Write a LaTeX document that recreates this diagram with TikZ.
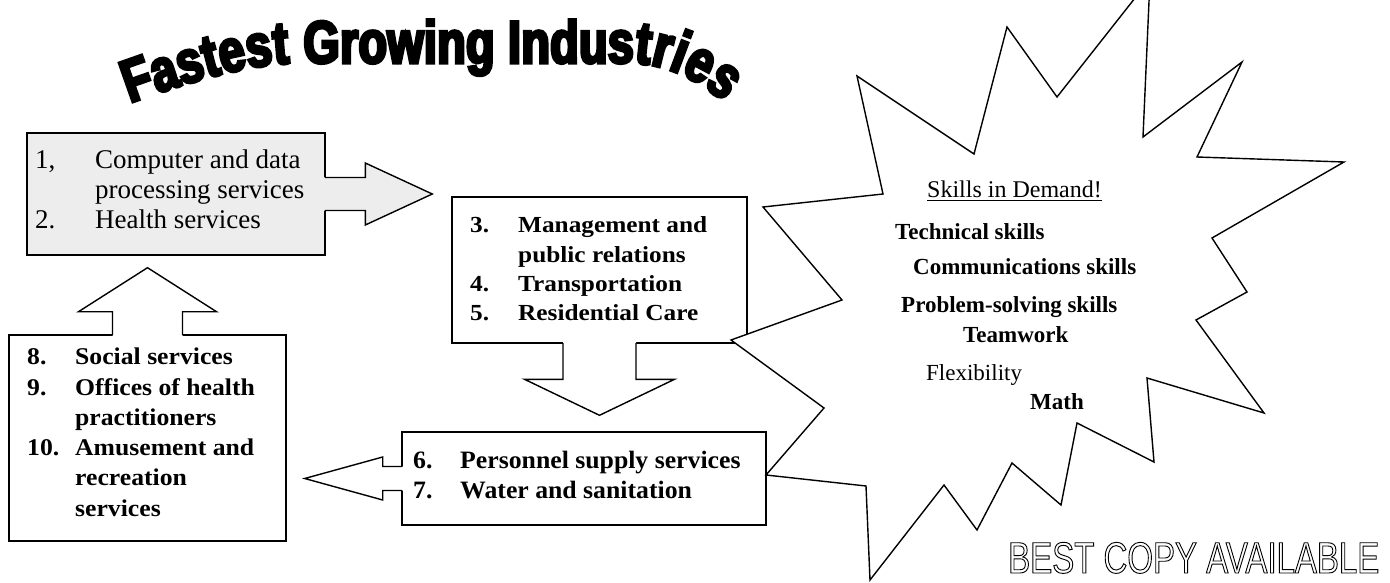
\documentclass[tikz,border=0pt]{standalone}
\usepackage{fontspec}
\setmainfont{Liberation Serif}
\newfontfamily\serifwideA{Liberation Serif}[FakeStretch=1.10]
\newfontfamily\serifwideB{Liberation Serif}[FakeStretch=1.07]
\newfontfamily\serifwideC{Liberation Serif}[FakeStretch=1.03]
\newfontfamily\titlefont{Liberation Sans Bold}[FakeStretch=0.78,FakeBold=5]
\newfontfamily\stampfont{Liberation Sans}[FakeStretch=0.75]
\usetikzlibrary{calc,decorations.text}

\definecolor{boxgray}{gray}{0.93}

% fixed-width column for list numbers
\newcommand\numcol[2]{\makebox[#1][l]{#2}}
% heading with a heavy underline
\newcommand\uline[1]{\vtop{\hbox{#1}\kern2.6pt\hrule height 1.3pt}}
% hollow (stroked) letters
\newcommand\outlined[1]{\special{pdf:literal direct 1 Tr 0.9 w}#1\special{pdf:literal direct 0 Tr}}

\begin{document}
\begin{tikzpicture}[x=1pt,y=-1pt,
  outline/.style={line width=1.4pt, line join=miter},
  box/.style={outline, draw=black, rectangle, inner sep=0pt},
  txt/.style={inner sep=0pt, anchor=base west},
  ]
\useasboundingbox (0,0) rectangle (1390,583);
\clip (0,0) rectangle (1390,583);

% arched title
\path[decorate, decoration={text along path, text align=fit to path,
   text={|\titlefont\fontsize{60}{60}\selectfont|Fastest Growing Industries}}]
  (130,103) .. controls (188,82) and (250,63) .. (300,63) -- (628,63)
  .. controls (664,63) and (696,78) .. (724,102);

% industry boxes
\node[box, fill=boxgray, minimum width=298pt, minimum height=122pt] (b1) at (176,194) {};
\node[box, fill=white, minimum width=295pt, minimum height=146pt] (b3) at (599.5,270) {};
\node[box, fill=white, minimum width=364pt, minimum height=93pt] (b6) at (584,478.5) {};
\node[box, fill=white, minimum width=277pt, minimum height=206pt] (b8) at (147.5,438) {};

% block arrow: b1 -> b3
\coordinate (tA) at ($(b3.west |- b1.east)+(-19,0)$);
\fill[boxgray] ($(b1.east)+(-1.5,-16.5)$) -- ($(tA)+(-67,-16.5)$) -- ($(tA)+(-67,-31)$) -- (tA)
  -- ($(tA)+(-67,31)$) -- ($(tA)+(-67,16.5)$) -- ($(b1.east)+(-1.5,16.5)$) -- cycle;
\draw[outline] ($(b1.east)+(-0.7,-16.5)$) -- ($(tA)+(-67,-16.5)$) -- ($(tA)+(-67,-31)$) -- (tA)
  -- ($(tA)+(-67,31)$) -- ($(tA)+(-67,16.5)$) -- ($(b1.east)+(-0.7,16.5)$);

% block arrow: b3 -> b6
\coordinate (tB) at ($(b6.north -| b3.south)+(0,-16)$);
\fill[white] ($(b3.south)+(-36.5,-1.5)$) -- ($(tB)+(-36.5,-36)$) -- ($(tB)+(-75,-36)$) -- (tB)
  -- ($(tB)+(75,-36)$) -- ($(tB)+(36.5,-36)$) -- ($(b3.south)+(36.5,-1.5)$) -- cycle;
\draw[outline] ($(b3.south)+(-36.5,-0.7)$) -- ($(tB)+(-36.5,-36)$) -- ($(tB)+(-75,-36)$) -- (tB)
  -- ($(tB)+(75,-36)$) -- ($(tB)+(36.5,-36)$) -- ($(b3.south)+(36.5,-0.7)$);

% block arrow: b6 -> b8
\coordinate (tC) at ($(b8.east |- b6.west)+(18,0)$);
\fill[white] ($(b6.west)+(1.5,-12)$) -- ($(tC)+(78,-12)$) -- ($(tC)+(78,-21.5)$) -- (tC)
  -- ($(tC)+(78,21.5)$) -- ($(tC)+(78,12)$) -- ($(b6.west)+(1.5,12)$) -- cycle;
\draw[outline] ($(b6.west)+(0.7,-12)$) -- ($(tC)+(78,-12)$) -- ($(tC)+(78,-21.5)$) -- (tC)
  -- ($(tC)+(78,21.5)$) -- ($(tC)+(78,12)$) -- ($(b6.west)+(0.7,12)$);

% block arrow: b8 -> b1
\coordinate (tD) at ($(b1.south -| b8.north)+(0,12)$);
\fill[white] ($(b8.north)+(-35,1.5)$) -- ($(tD)+(-35,44)$) -- ($(tD)+(-69,44)$) -- (tD)
  -- ($(tD)+(69,44)$) -- ($(tD)+(35,44)$) -- ($(b8.north)+(35,1.5)$) -- cycle;
\draw[outline] ($(b8.north)+(-35,0.7)$) -- ($(tD)+(-35,44)$) -- ($(tD)+(-69,44)$) -- (tD)
  -- ($(tD)+(69,44)$) -- ($(tD)+(35,44)$) -- ($(b8.north)+(35,0.7)$);

% box contents
\node[txt, font=\fontsize{27}{30}\selectfont] (l1) at (35,168)
  {\vtop{\hbox{\numcol{60pt}{1,}Computer and data}
         \hbox{\numcol{60pt}{}processing services}
         \hbox{\numcol{60pt}{2.}Health services}}};
\node[txt, font=\serifwideA\bfseries\fontsize{23}{29.3}\selectfont] (l3) at (470,233)
  {\vtop{\hbox{\numcol{48pt}{3.}Management and}
         \hbox{\numcol{48pt}{}public relations}
         \hbox{\numcol{48pt}{4.}Transportation}
         \hbox{\numcol{48pt}{5.}Residential Care}}};
\node[txt, font=\serifwideC\bfseries\fontsize{25}{30}\selectfont] (l6) at (413,468)
  {\vtop{\hbox{\numcol{47pt}{6.}Personnel supply services}
         \hbox{\numcol{47pt}{7.}Water and sanitation}}};
\node[txt, font=\serifwideB\bfseries\fontsize{24}{30.3}\selectfont] (l8) at (27,364.7)
  {\vtop{\hbox{\numcol{48pt}{8.}Social services}
         \hbox{\numcol{48pt}{9.}Offices of health}
         \hbox{\numcol{48pt}{}practitioners}
         \hbox{\numcol{48pt}{10.}Amusement and}
         \hbox{\numcol{48pt}{}recreation}
         \hbox{\numcol{48pt}{}services}}};

% skills burst
\filldraw[outline, fill=white]
  (1150,-21) -- (1143,137) -- (1242,62) -- (1197,157) -- (1344,162) -- (1212,238)
  -- (1247,292) -- (1196,320) -- (1264,413) -- (1147,378) -- (1154,462) -- (1077,423)
  -- (1061,505) -- (1012,463) -- (977,530) -- (944,485) -- (870,580) -- (866,486)
  -- (766,475) -- (824,408) -- (731,340) -- (842,300) -- (763,207) -- (883,194)
  -- (857,76) -- (974,154) -- (1007,27) -- (1057,97) -- cycle;

\node[txt, font=\fontsize{24}{24}\selectfont] (sk) at (927,197) {\uline{Skills in Demand!}};
\node[txt, font=\bfseries\fontsize{23}{23}\selectfont] (s1) at (895,239) {Technical skills};
\node[txt, font=\bfseries\fontsize{23}{23}\selectfont] (s2) at (913,274) {Communications skills};
\node[txt, font=\bfseries\fontsize{23}{23}\selectfont] (s3) at (901,312) {Problem-solving skills};
\node[txt, font=\bfseries\fontsize{23}{23}\selectfont] (s4) at (963,342) {Teamwork};
\node[txt, font=\fontsize{23}{23}\selectfont] (s5) at (926,380) {Flexibility};
\node[txt, font=\bfseries\fontsize{23}{23}\selectfont] (s6) at (1030,409) {Math};

% stamp
\node[txt, font=\stampfont\fontsize{44}{44}\selectfont] (stamp) at (1008,573) {\outlined{BEST COPY AVAILABLE}};
\end{tikzpicture}
\end{document}
